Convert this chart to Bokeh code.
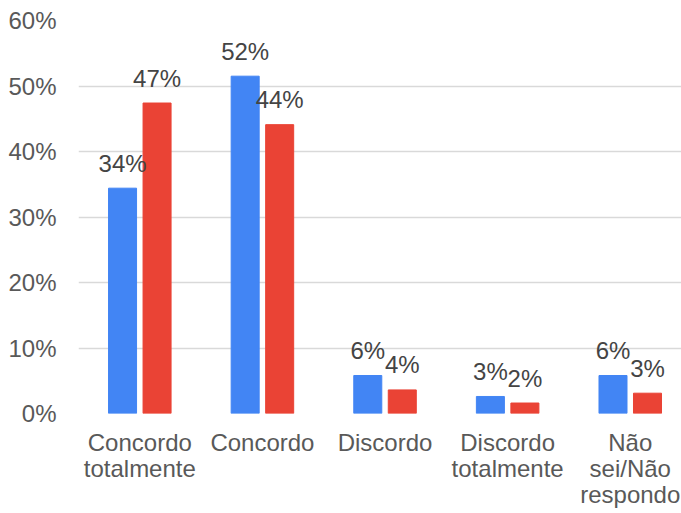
import numpy as np
from bokeh.plotting import figure
from bokeh.models import ColumnDataSource, Range1d, FixedTicker, PrintfTickFormatter
from bokeh.core.properties import value
from bokeh.embed import file_html
from bokeh.resources import INLINE

categories = ["Concordo\ntotalmente", "Concordo", "Discordo", "Discordo\ntotalmente", "Não\nsei/Não\nrespondo"]
blue_values = [34.4, 51.5, 5.8, 2.6, 5.8]
red_values = [47.4, 44.1, 3.6, 1.6, 3.1]
y_ticks = [0, 10, 20, 30, 40, 50, 60]

FONT = "Liberation Sans"
idx = np.arange(len(categories))
offset = 0.1407
bar_w = 0.2285

def fmt(v):
    return f"{int(v + 0.5)}%"

src_b = ColumnDataSource(dict(x=idx - offset, top=blue_values, label=[fmt(v) for v in blue_values]))
src_r = ColumnDataSource(dict(x=idx + offset, top=red_values, label=[fmt(v) for v in red_values]))

p = figure(width=681, height=513, output_backend="svg", toolbar_location=None,
           x_range=Range1d(-0.5, 4.418), y_range=Range1d(0, 60),
           min_border_left=78, min_border_right=0, min_border_top=20, min_border_bottom=100)
p.outline_line_color = None
p.background_fill_color = "white"
p.border_fill_color = "white"

p.vbar(x="x", top="top", width=bar_w, source=src_b, color="#4285F4")
p.vbar(x="x", top="top", width=bar_w, source=src_r, color="#EA4335")

for src in (src_b, src_r):
    p.text(x="x", y="top", text="label", source=src, text_align="center",
           text_baseline="alphabetic", y_offset=-25, text_font=value(FONT),
           text_font_size="24px", text_color="#444444")

p.xgrid.grid_line_color = None
p.ygrid.grid_line_color = "#d9d9d9"
p.ygrid.grid_line_width = 1.5
p.ygrid.ticker = FixedTicker(ticks=y_ticks)

p.yaxis.ticker = FixedTicker(ticks=y_ticks)
p.yaxis.formatter = PrintfTickFormatter(format="%d%%")
p.xaxis.ticker = FixedTicker(ticks=list(idx))
p.xaxis.major_label_overrides = {int(i): c for i, c in zip(idx, categories)}

for ax in (p.xaxis, p.yaxis):
    ax.axis_line_color = None
    ax.major_tick_line_color = None
    ax.minor_tick_line_color = None
    ax.major_tick_out = 0
    ax.major_tick_in = 0
    ax.major_label_text_font = FONT
    ax.major_label_text_font_size = "24px"
    ax.major_label_text_color = "#595959"
p.yaxis.major_label_standoff = 22
p.xaxis.major_label_standoff = 15
p.xaxis.major_label_text_align = "center"
p.xaxis.major_label_text_line_height = 0.97

open("out.html", "w").write(file_html(p, INLINE))
